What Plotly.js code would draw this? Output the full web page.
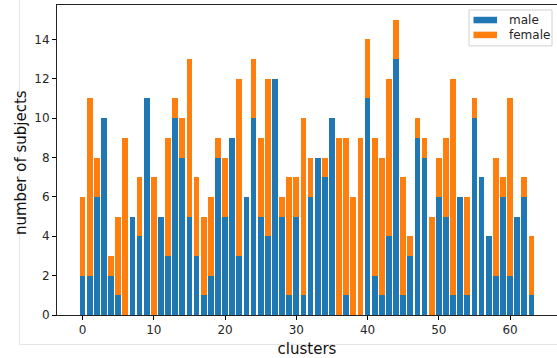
<!DOCTYPE html>
<html>
<head>
<meta charset="utf-8">
<script src="https://cdn.plot.ly/plotly-3.0.1.min.js"></script>
<style>html,body{margin:0;padding:0;overflow:hidden;background:#fff;}</style>
</head>
<body>
<div id="chart" style="width:557px;height:358px;"></div>
<script>
const clusters = Array.from({length: 64}, (_, i) => i);
const male = [2,2,6,10,2,1,0,5,4,11,0,5,3,10,8,5,3,1,2,8,5,9,3,6,10,5,4,12,5,1,5,1,6,8,7,10,0,1,0,0,11,2,1,4,13,1,3,9,8,0,6,5,1,6,1,10,7,4,2,6,2,5,6,1];
const total = [6,11,8,10,3,5,9,5,7,11,7,5,9,11,10,13,7,5,6,9,8,9,12,6,13,9,12,12,6,7,7,10,8,8,8,10,9,9,6,9,14,9,8,12,15,7,4,10,9,5,8,9,12,6,6,11,7,4,8,7,11,5,7,4];
const female = total.map((t, i) => t - male[i]);
const xTicks = [0,10,20,30,40,50,60];
const yTicks = [0,2,4,6,8,10,12,14];
const seriesNames = ['male', 'female'];
const seriesColors = ['#1f77b4', '#ff7f0e'];

const data = [
  {type: 'bar', name: seriesNames[0], x: clusters, y: male, width: 0.8,
   marker: {color: seriesColors[0], line: {width: 0}}},
  {type: 'bar', name: seriesNames[1], x: clusters, y: female, width: 0.8,
   marker: {color: seriesColors[1], line: {width: 0}}}
];

// legend box drawn in paper coordinates (wide patches like the original)
const legendShapes = [
  {type: 'rect', xref: 'paper', yref: 'paper', x0: 0.824, x1: 0.99, y0: 0.868, y1: 0.984,
   fillcolor: 'rgba(255,255,255,0.8)', line: {color: '#d0d0d0', width: 1}},
  {type: 'rect', xref: 'paper', yref: 'paper', x0: 0.833, x1: 0.88, y0: 0.941, y1: 0.962,
   fillcolor: seriesColors[0], line: {width: 0}},
  {type: 'rect', xref: 'paper', yref: 'paper', x0: 0.833, x1: 0.88, y0: 0.893, y1: 0.914,
   fillcolor: seriesColors[1], line: {width: 0}}
];
const annots = [
  {xref: 'paper', yref: 'paper', x: 0.9, y: 0.952, text: seriesNames[0], showarrow: false,
   xanchor: 'left', yanchor: 'middle', font: {size: 12, color: '#262626'}},
  {xref: 'paper', yref: 'paper', x: 0.9, y: 0.903, text: seriesNames[1], showarrow: false,
   xanchor: 'left', yanchor: 'middle', font: {size: 12, color: '#262626'}},
  {xref: 'paper', yref: 'paper', x: -0.072, y: 0.49, text: 'number of subjects', showarrow: false,
   textangle: -90, xanchor: 'center', yanchor: 'middle', font: {size: 15, color: '#111'}}
];

const layout = {
  width: 557, height: 358,
  margin: {l: 57, r: 0, t: 5, b: 43},
  barmode: 'stack',
  paper_bgcolor: '#fff', plot_bgcolor: '#fff',
  font: {family: 'DejaVu Sans', size: 12, color: '#262626'},
  xaxis: {
    range: [-3.59, 66.59], tickvals: xTicks, ticktext: xTicks.map(String),
    ticks: 'outside', ticklen: 4, tickcolor: '#000', tickwidth: 1,
    showline: true, linecolor: '#222', linewidth: 1, mirror: true,
    showgrid: false, zeroline: false,
    tickfont: {size: 12, color: '#262626'},
    title: {text: 'clusters', font: {size: 15, color: '#111'}, standoff: 8}
  },
  yaxis: {
    range: [0, 15.75], tickvals: yTicks, ticktext: yTicks.map(String),
    ticks: 'outside', ticklen: 4, tickcolor: '#000', tickwidth: 1,
    showline: true, linecolor: '#222', linewidth: 1, mirror: true,
    showgrid: false, zeroline: false,
    tickfont: {size: 12, color: '#262626'}
  },
  showlegend: false,
  shapes: [
    {type: 'line', xref: 'paper', yref: 'paper', x0: -0.075, x1: -0.075, y0: 1.02, y1: -0.095,
     line: {color: '#e4e4e4', width: 1}},
    {type: 'line', xref: 'paper', yref: 'paper', x0: -0.075, x1: 1.0, y0: -0.095, y1: -0.095,
     line: {color: '#e4e4e4', width: 1}}
  ].concat(legendShapes),
  annotations: annots
};

Plotly.newPlot('chart', data, layout, {displayModeBar: false, staticPlot: true});
</script>
</body>
</html>
